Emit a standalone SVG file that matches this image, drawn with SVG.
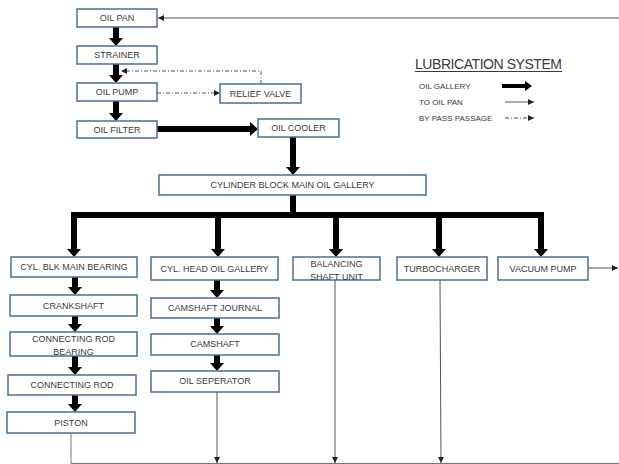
<svg xmlns="http://www.w3.org/2000/svg" width="619" height="464" viewBox="0 0 619 464">
<style>
.box{fill:#fff;stroke:#4a6f95;stroke-width:1.5}
.t{font-family:"Liberation Sans",Arial,sans-serif;font-size:9px;fill:#3a3a3a;text-anchor:middle;dominant-baseline:central}
.lt{font-family:"Liberation Sans",Arial,sans-serif;font-size:8px;fill:#3a3a3a;dominant-baseline:central}
.title{font-family:"Liberation Sans",Arial,sans-serif;font-size:14px;fill:#3a3a3a}
.thick{stroke:#000;stroke-width:6;fill:none}
.thin{stroke:#555;stroke-width:1;fill:none}
.dash{stroke:#555;stroke-width:1;fill:none;stroke-dasharray:4 2 1 2}
</style>
<defs>
<marker id="big" markerUnits="userSpaceOnUse" markerWidth="8" markerHeight="14" refX="0" refY="7" orient="auto" viewBox="0 0 8 14">
<path d="M0,0 L8,7 L0,14 z" fill="#000"/>
</marker>
<marker id="sm" markerUnits="userSpaceOnUse" markerWidth="6" markerHeight="6" refX="6" refY="3" orient="auto" viewBox="0 0 6 6">
<path d="M0,0 L6,3 L0,6 z" fill="#222"/>
</marker>
<marker id="leg" markerUnits="userSpaceOnUse" markerWidth="7" markerHeight="10" refX="0" refY="5" orient="auto" viewBox="0 0 7 10">
<path d="M0,0 L7,5 L0,10 z" fill="#000"/>
</marker>
</defs>

<g id="connectors">
<!-- return to oil pan -->
<line class="thin" x1="619" y1="18" x2="158" y2="18" marker-end="url(#sm)"/>
<line class="thick" x1="116" y1="27" x2="116" y2="38" marker-end="url(#big)"/>
<line class="thick" x1="116" y1="64" x2="116" y2="75" marker-end="url(#big)"/>
<path class="dash" d="M261,84 V71 H121" marker-end="url(#sm)"/>
<line class="dash" x1="157" y1="93" x2="220" y2="93" marker-end="url(#sm)"/>
<line class="thick" x1="116" y1="101" x2="116" y2="113" marker-end="url(#big)"/>
<line class="thick" x1="157" y1="129" x2="250" y2="129" marker-end="url(#big)"/>
<line class="thick" x1="293" y1="137" x2="293" y2="167" marker-end="url(#big)"/>
<path class="thick" d="M293,195 V215 M74,215 H541"/>
<line class="thick" x1="74" y1="212" x2="74" y2="249" marker-end="url(#big)"/>
<line class="thick" x1="218" y1="215" x2="218" y2="249" marker-end="url(#big)"/>
<line class="thick" x1="336" y1="215" x2="336" y2="249" marker-end="url(#big)"/>
<line class="thick" x1="439" y1="215" x2="439" y2="249" marker-end="url(#big)"/>
<line class="thick" x1="541" y1="212" x2="541" y2="249" marker-end="url(#big)"/>
<line class="thin" x1="588" y1="268" x2="618" y2="268" marker-end="url(#sm)"/>
<!-- column 1 -->
<line class="thick" x1="75" y1="277" x2="75" y2="287" marker-end="url(#big)"/>
<line class="thick" x1="75" y1="316" x2="75" y2="324" marker-end="url(#big)"/>
<line class="thick" x1="75" y1="356" x2="75" y2="367" marker-end="url(#big)"/>
<line class="thick" x1="75" y1="395" x2="75" y2="404" marker-end="url(#big)"/>
<!-- column 2 -->
<line class="thick" x1="217" y1="280" x2="217" y2="290" marker-end="url(#big)"/>
<line class="thick" x1="217" y1="318" x2="217" y2="326" marker-end="url(#big)"/>
<line class="thick" x1="217" y1="355" x2="217" y2="363" marker-end="url(#big)"/>
<!-- returns to bottom -->
<path class="thin" d="M71,433 V463.5 H619" style="stroke:#777"/>
<line class="thin" x1="217" y1="392" x2="217" y2="463" marker-end="url(#sm)"/>
<line class="thin" x1="335" y1="280" x2="335" y2="463" marker-end="url(#sm)"/>
<line class="thin" x1="440" y1="280" x2="441" y2="463" marker-end="url(#sm)"/>
</g>

<g id="oil-pan"><rect class="box" x="77" y="9" width="80" height="18"/><text class="t" x="117" y="18">OIL PAN</text></g>
<g id="strainer"><rect class="box" x="77" y="46" width="80" height="18"/><text class="t" x="117" y="55">STRAINER</text></g>
<g id="oil-pump"><rect class="box" x="77" y="83" width="80" height="18"/><text class="t" x="117" y="92">OIL PUMP</text></g>
<g id="relief-valve"><rect class="box" x="220" y="84" width="81" height="19"/><text class="t" x="260.5" y="93.5">RELIEF VALVE</text></g>
<g id="oil-filter"><rect class="box" x="77" y="121" width="80" height="17"/><text class="t" x="117" y="129.5">OIL FILTER</text></g>
<g id="oil-cooler"><rect class="box" x="258" y="119" width="81" height="18"/><text class="t" x="298.5" y="128">OIL COOLER</text></g>
<g id="main-gallery"><rect class="box" x="159" y="175" width="267" height="20"/><text class="t" x="292.5" y="185">CYLINDER BLOCK MAIN OIL GALLERY</text></g>

<g id="main-bearing"><rect class="box" x="11" y="257" width="126" height="20"/><text class="t" x="74" y="267">CYL. BLK MAIN BEARING</text></g>
<g id="head-gallery"><rect class="box" x="151" y="257" width="127" height="23"/><text class="t" x="214.5" y="268.5">CYL. HEAD OIL GALLERY</text></g>
<g id="balancing-shaft"><rect class="box" x="293" y="257" width="87" height="23"/><text class="t" x="336.5" y="263.5">BALANCING</text><text class="t" x="336.5" y="276.5">SHAFT UNIT</text></g>
<g id="turbocharger"><rect class="box" x="397" y="257" width="90" height="23"/><text class="t" x="442" y="268.5">TURBOCHARGER</text></g>
<g id="vacuum-pump"><rect class="box" x="498" y="257" width="90" height="23"/><text class="t" x="543" y="268.5">VACUUM PUMP</text></g>

<g id="crankshaft"><rect class="box" x="10" y="295" width="127" height="21"/><text class="t" x="73.5" y="305.5">CRANKSHAFT</text></g>
<g id="conrod-bearing"><rect class="box" x="10" y="332" width="127" height="24"/><text class="t" x="73.5" y="338.5">CONNECTING ROD</text><text class="t" x="73.5" y="352">BEARING</text></g>
<g id="conrod"><rect class="box" x="8" y="375" width="128" height="20"/><text class="t" x="72" y="385">CONNECTING ROD</text></g>
<g id="piston"><rect class="box" x="7" y="412" width="128" height="21"/><text class="t" x="71" y="422.5">PISTON</text></g>

<g id="camshaft-journal"><rect class="box" x="151" y="298" width="128" height="20"/><text class="t" x="215" y="308">CAMSHAFT JOURNAL</text></g>
<g id="camshaft"><rect class="box" x="151" y="334" width="128" height="21"/><text class="t" x="215" y="344">CAMSHAFT</text></g>
<g id="oil-separator"><rect class="box" x="151" y="371" width="128" height="21"/><text class="t" x="215" y="381">OIL SEPERATOR</text></g>

<g id="legend">
<text class="title" x="415" y="69" textLength="147">LUBRICATION SYSTEM</text>
<line x1="415" y1="71.5" x2="562" y2="71.5" stroke="#3a3a3a" stroke-width="1"/>
<text class="lt" x="419" y="86.5">OIL GALLERY</text>
<text class="lt" x="419" y="102.5">TO OIL PAN</text>
<text class="lt" x="419" y="118.5">BY PASS PASSAGE</text>
<line x1="502" y1="86" x2="525" y2="86" stroke="#000" stroke-width="4" marker-end="url(#leg)"/>
<line class="thin" x1="505" y1="102" x2="534" y2="102" marker-end="url(#sm)"/>
<line class="dash" x1="505" y1="118" x2="534" y2="118" marker-end="url(#sm)"/>
</g>
</svg>
